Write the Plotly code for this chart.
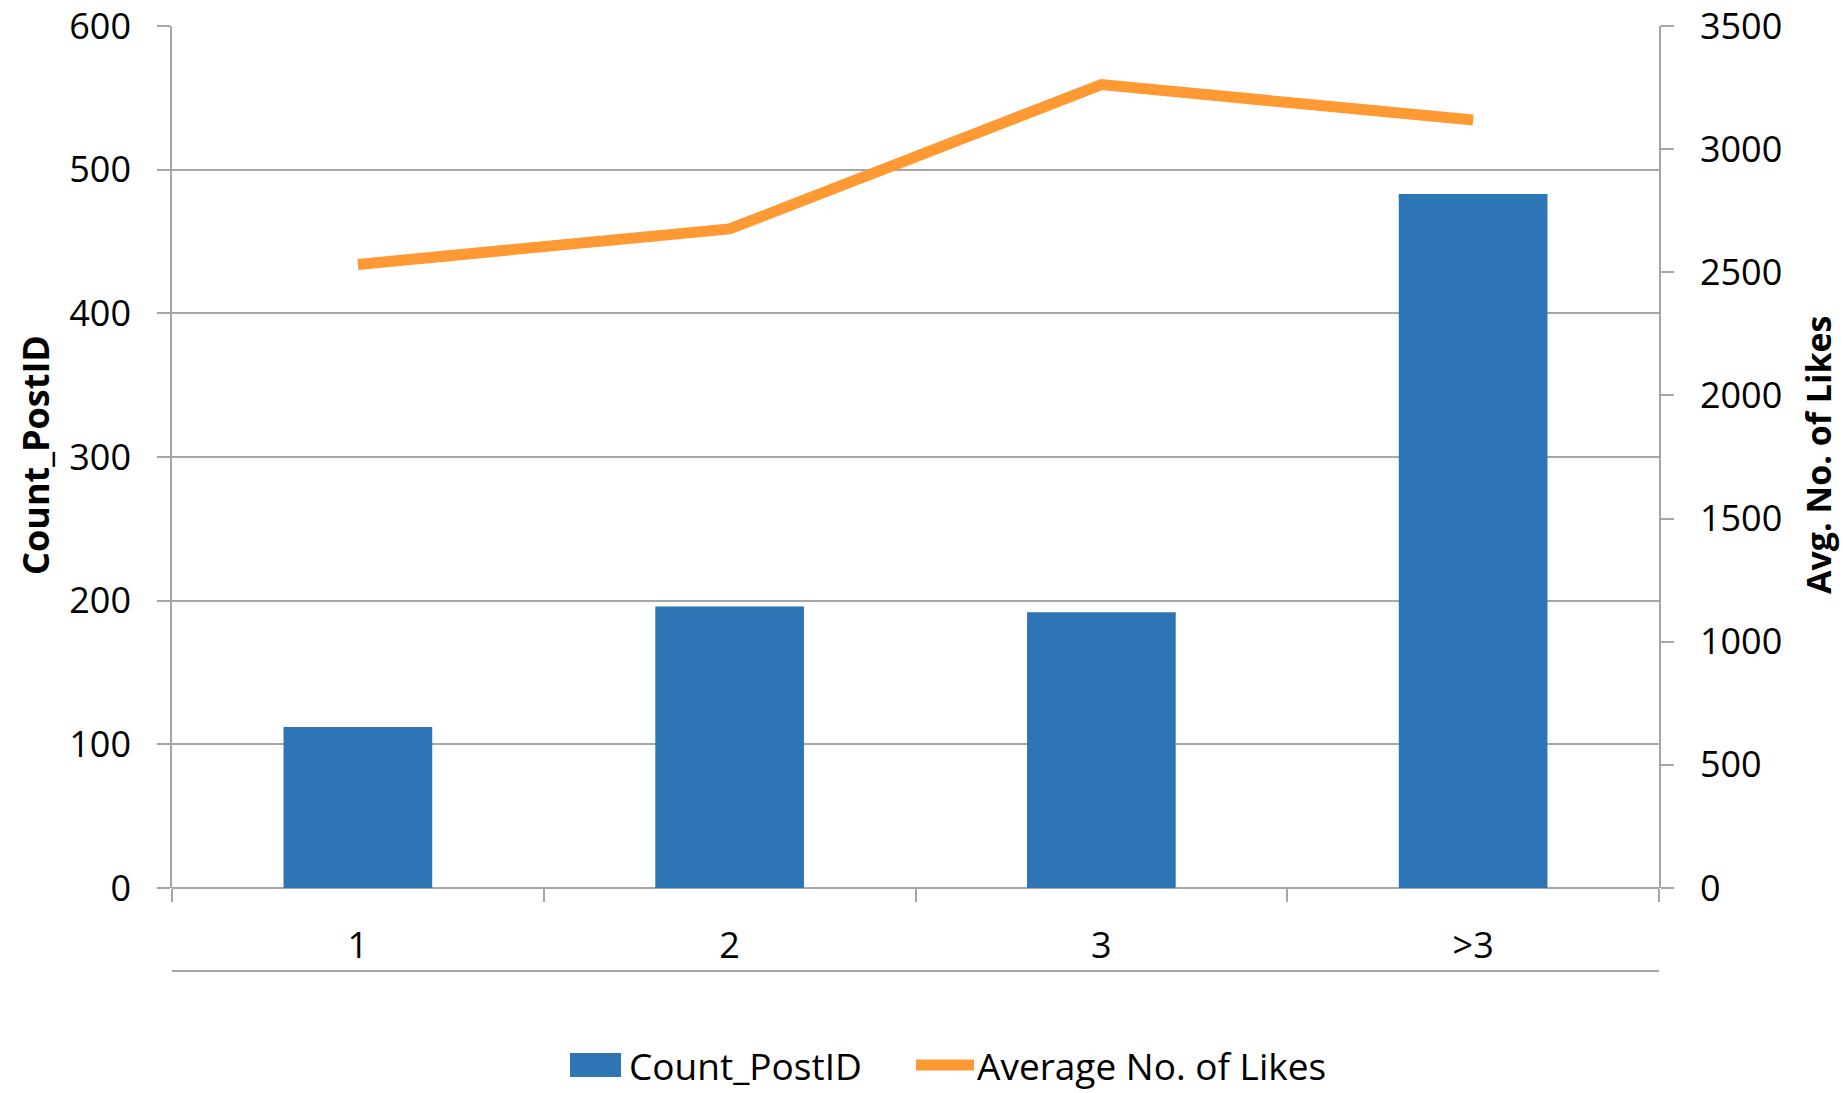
import plotly.graph_objects as go

# Posts grouped by number of something per post
categories = ["1", "2", "3", ">3"]
count_postid = [112, 196, 192, 483]
avg_likes = [2532, 2676, 3262, 3118]

left_ticks = [0, 100, 200, 300, 400, 500, 600]
right_ticks = [0, 500, 1000, 1500, 2000, 2500, 3000, 3500]

BLUE = "#2E75B6"
ORANGE = "#FF9933"
GRID = "#A6A6A6"
FONT = "Open Sans, DejaVu Sans, sans-serif"
TICK_FONT = dict(family=FONT, size=36, color="#000000")

# plot area in pixels, used to place the legend drawn below the axis
PLOT_L, PLOT_R, PLOT_T, PLOT_B = 172, 1659, 26, 888


def px_x(x):
    return (x - PLOT_L) / (PLOT_R - PLOT_L)


def px_y(y):
    return (PLOT_B - y) / (PLOT_B - PLOT_T)


fig = go.Figure()

fig.add_trace(go.Bar(
    x=categories, y=count_postid, name="Count_PostID",
    marker=dict(color=BLUE, line=dict(width=0)),
    yaxis="y",
))

fig.add_trace(go.Scatter(
    x=categories, y=avg_likes, name="Average No. of Likes",
    mode="lines", line=dict(color=ORANGE, width=11),
    yaxis="y2",
))

legend_font = dict(family=FONT, size=37, color="#000000")
LEG_Y = 1065

fig.update_layout(
    width=1843, height=1093,
    margin=dict(l=PLOT_L, r=1843 - PLOT_R, t=PLOT_T, b=1093 - PLOT_B, autoexpand=False),
    paper_bgcolor="white", plot_bgcolor="white",
    bargap=0.6,
    showlegend=False,
    xaxis=dict(
        type="category", categoryorder="array", categoryarray=categories,
        showgrid=False, showline=False, zeroline=False, automargin=False,
        ticks="outside", tickson="boundaries", ticklen=13, tickwidth=1.5, tickcolor=GRID,
        tickfont=TICK_FONT, ticklabelstandoff=33,
    ),
    yaxis=dict(
        range=[0, 600], tickvals=left_ticks, automargin=False,
        showgrid=True, gridcolor=GRID, gridwidth=1.5,
        showline=True, linecolor=GRID, linewidth=1.5,
        zeroline=True, zerolinecolor=GRID, zerolinewidth=1.5,
        ticks="outside", ticklen=13, tickwidth=1.5, tickcolor=GRID,
        tickfont=TICK_FONT, ticklabelstandoff=19, ticklabeloverflow="allow",
    ),
    yaxis2=dict(
        range=[0, 3500], tickvals=right_ticks, overlaying="y", side="right",
        showgrid=False, zeroline=False, automargin=False,
        showline=True, linecolor=GRID, linewidth=1.5,
        ticks="outside", ticklen=13, tickwidth=1.5, tickcolor=GRID,
        tickfont=TICK_FONT, ticklabelstandoff=19, ticklabeloverflow="allow",
    ),
    shapes=[
        # rule under the category labels
        dict(type="line", xref="paper", yref="paper", x0=0, x1=1,
             y0=px_y(971), y1=px_y(971), line=dict(color=GRID, width=2)),
        # legend keys
        dict(type="rect", xref="paper", yref="paper",
             x0=px_x(570), x1=px_x(621), y0=px_y(LEG_Y - 12), y1=px_y(LEG_Y + 12),
             fillcolor=BLUE, line=dict(width=0)),
        dict(type="line", xref="paper", yref="paper",
             x0=px_x(916), x1=px_x(974), y0=px_y(LEG_Y), y1=px_y(LEG_Y),
             line=dict(color=ORANGE, width=11)),
    ],
    annotations=[
        dict(text="<b>Count_PostID</b>", xref="paper", yref="paper",
             x=px_x(35), y=px_y(455), xanchor="center", yanchor="middle", textangle=-90,
             showarrow=False, font=dict(family=FONT, size=36, color="#000000")),
        dict(text="<b>Avg. No. of Likes</b>", xref="paper", yref="paper",
             x=px_x(1818), y=px_y(455), xanchor="center", yanchor="middle", textangle=-90,
             showarrow=False, font=dict(family=FONT, size=34, color="#000000")),
        dict(text="Count_PostID", xref="paper", yref="paper",
             x=px_x(627), y=px_y(LEG_Y), xanchor="left", yanchor="middle",
             showarrow=False, font=legend_font),
        dict(text="Average No. of Likes", xref="paper", yref="paper",
             x=px_x(975), y=px_y(LEG_Y), xanchor="left", yanchor="middle",
             showarrow=False, font=legend_font),
    ],
)

fig.write_html("out.html")
